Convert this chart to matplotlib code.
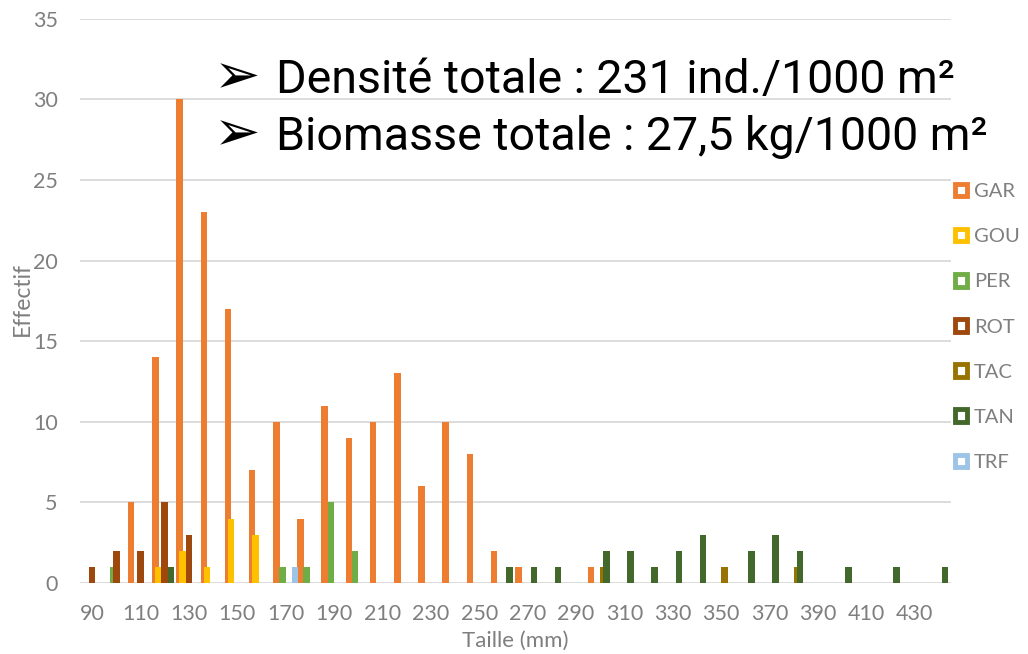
import numpy as np
import matplotlib.pyplot as plt
from matplotlib.patches import Patch

# size classes (mm)
sizes = list(range(90, 450, 10))

# effectif per size class and species
gar = [0, 0, 5, 14, 30, 23, 17, 7, 10, 4, 11, 9, 10, 13, 6, 10, 8, 2, 1, 0, 0, 1,
       0, 0, 0, 0, 0, 0, 0, 0, 0, 0, 0, 0, 0, 0]
gou = [0, 0, 0, 1, 2, 1, 4, 3, 0, 0, 0, 0, 0, 0, 0, 0, 0, 0, 0, 0, 0, 0,
       0, 0, 0, 0, 0, 0, 0, 0, 0, 0, 0, 0, 0, 0]
per = [0, 1, 0, 0, 0, 0, 0, 0, 1, 1, 5, 2, 0, 0, 0, 0, 0, 0, 0, 0, 0, 0,
       0, 0, 0, 0, 0, 0, 0, 0, 0, 0, 0, 0, 0, 0]
rot = [1, 2, 2, 5, 3, 0, 0, 0, 0, 0, 0, 0, 0, 0, 0, 0, 0, 0, 0, 0, 0, 0,
       0, 0, 0, 0, 0, 0, 0, 0, 0, 0, 0, 0, 0, 0]
tac = [0, 0, 0, 0, 0, 0, 0, 0, 0, 0, 0, 0, 0, 0, 0, 0, 0, 0, 0, 0, 0, 1,
       0, 0, 0, 0, 1, 0, 0, 1, 0, 0, 0, 0, 0, 0]
tan = [0, 0, 0, 1, 0, 0, 0, 0, 0, 0, 0, 0, 0, 0, 0, 0, 0, 1, 1, 1, 0, 2,
       2, 1, 2, 3, 0, 2, 3, 2, 0, 1, 0, 1, 0, 1]
trf = [0, 0, 0, 0, 0, 0, 0, 0, 1, 0, 0, 0, 0, 0, 0, 0, 0, 0, 0, 0, 0, 0,
       0, 0, 0, 0, 0, 0, 0, 0, 0, 0, 0, 0, 0, 0]

species = ['GAR', 'GOU', 'PER', 'ROT', 'TAC', 'TAN', 'TRF']
series = [gar, gou, per, rot, tac, tan, trf]
colors = ['#ED7D31', '#FFC000', '#70AD47', '#9E480E', '#997300', '#43682B', '#9DC3E6']

grey = '#7f7f7f'
plt.rcParams['font.family'] = ['Lato', 'DejaVu Sans']

W, H = 1028, 654
fig = plt.figure(figsize=(W / 100, H / 100), dpi=100)
ax = fig.add_axes([80 / W, 1 - 583 / H, 871 / W, 564.2 / H])

x = np.arange(len(sizes))
step = 0.128
width = 0.27
for i, (vals, col) in enumerate(zip(series, colors)):
    ax.bar(x + (i - 3) * step, vals, width=width, color=col, linewidth=0, zorder=2)

ax.set_xlim(-0.5, len(sizes) - 0.5)
ax.set_ylim(0, 35)
ax.set_yticks(range(0, 36, 5))
ax.set_xticks(x[::2])
ax.set_xticklabels([str(s) for s in sizes[::2]])
ax.tick_params(length=0, labelsize=15.5, labelcolor=grey)
ax.tick_params(axis='y', pad=16)
ax.tick_params(axis='x', pad=15)
ax.yaxis.grid(True, color='#d9d9d9', linewidth=1.3, zorder=0)
ax.set_axisbelow(True)
for sp in ax.spines.values():
    sp.set_visible(False)

ax.set_xlabel('Taille (mm)', fontsize=16, color=grey, labelpad=5)
fig.text(22 / W, 1 - 299 / H, 'Effectif', rotation=90, fontsize=16.5,
         color=grey, ha='center', va='center')

handles = [Patch(facecolor='white', edgecolor=c, linewidth=3.5) for c in colors]
ax.legend(handles, species, loc='upper left', bbox_to_anchor=(955 / W, 1 - 183 / H),
          bbox_transform=fig.transFigure, frameon=False, handlelength=0.6,
          handleheight=0.6, handletextpad=0.35, labelspacing=1.4, fontsize=14.5,
          labelcolor=grey, borderaxespad=0, borderpad=0)

# summary text
for yb, txt in [(93, 'Densité totale : 231 ind./1000 m²'),
                (150, 'Biomasse totale : 27,5 kg/1000 m²')]:
    fig.text(214 / W, 1 - yb / H, '➢', fontsize=40, family='DejaVu Sans',
             va='baseline', ha='left', color='black')
    fig.text(276 / W, 1 - yb / H, txt, fontsize=33.5, family='Roboto',
             va='baseline', ha='left', color='black')

fig.savefig('out.png', dpi=100)
